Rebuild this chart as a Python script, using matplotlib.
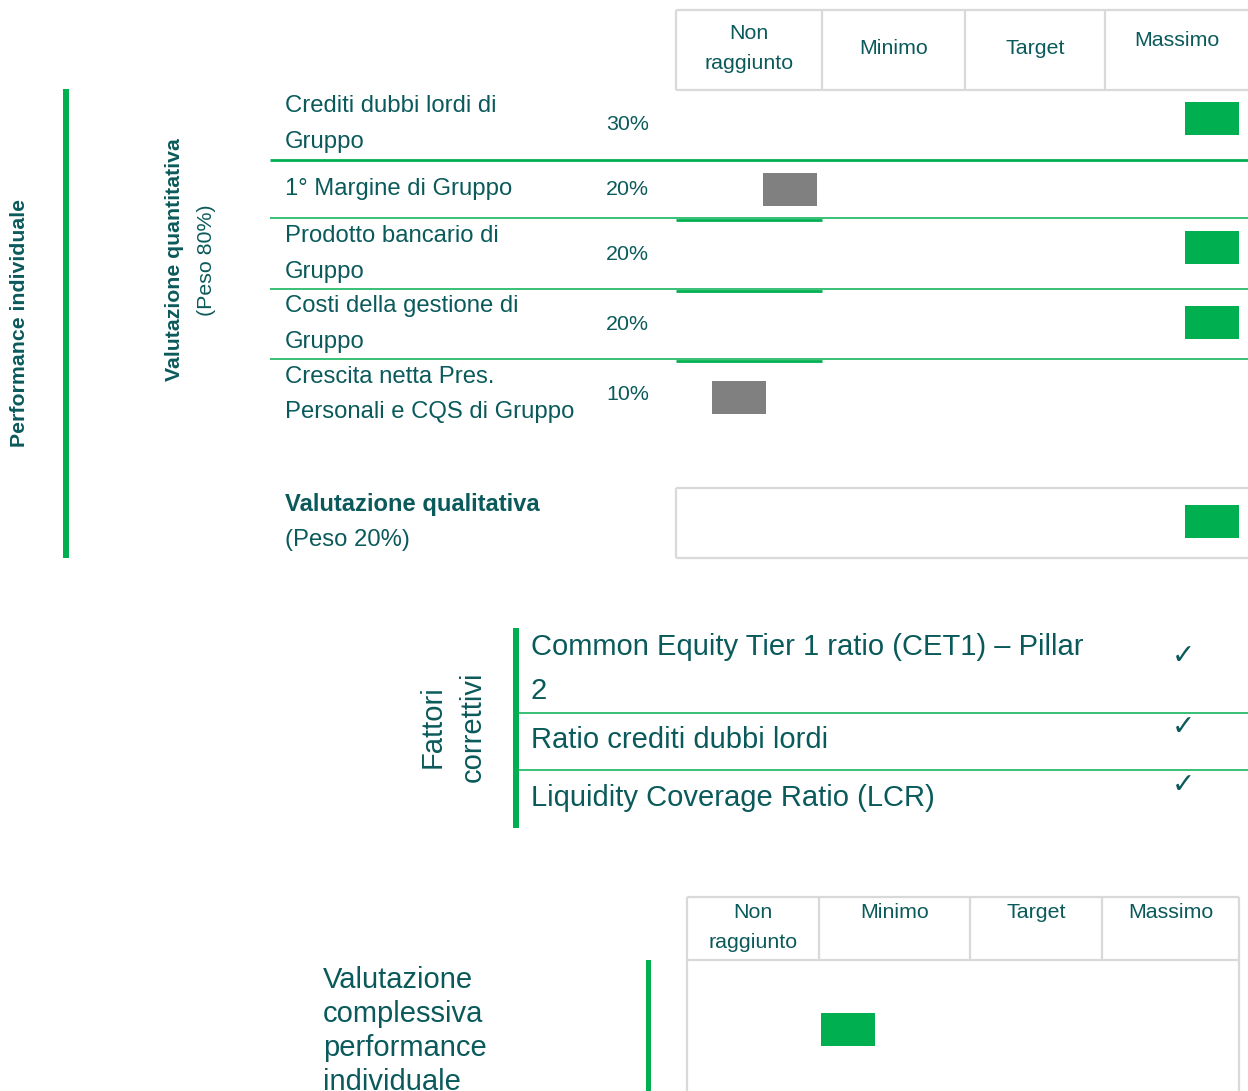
import matplotlib.pyplot as plt
from matplotlib.patches import Rectangle

plt.rcParams['font.family'] = ['Liberation Sans', 'DejaVu Sans']

# --- data ---
livelli = ["Non\nraggiunto", "Minimo", "Target", "Massimo"]
obiettivi = ["Crediti dubbi lordi di\nGruppo", "1° Margine di Gruppo",
             "Prodotto bancario di\nGruppo", "Costi della gestione di\nGruppo",
             "Crescita netta Pres.\nPersonali e CQS di Gruppo"]
pesi = ["30%", "20%", "20%", "20%", "10%"]
# score on the 0-4 scale of the level columns
punteggi = [3.75, 0.78, 3.75, 3.75, 0.43]
raggiunto = [True, False, True, True, False]
punteggio_qualitativo = 3.75
fattori = ["Common Equity Tier 1 ratio (CET1) – Pillar\n2",
           "Ratio crediti dubbi lordi",
           "Liquidity Coverage Ratio (LCR)"]
fattori_ok = [True, True, True]
punteggio_complessivo = 1.19

# --- style / layout ---
TEAL = '#0b5a5b'
GREEN = '#00b050'
GRAY = '#808080'
BORDER = '#d9d9d9'

fig = plt.figure(figsize=(12.48, 10.91), dpi=100)
ax = fig.add_axes([0, 0, 1, 1])
ax.set_xlim(0, 1248)
ax.set_ylim(1091, 0)
ax.axis('off')


def pos_x(score, edges):
    i = min(int(score), len(edges) - 2)
    return edges[i] + (score - i) * (edges[i + 1] - edges[i])


def box(xc, yc, color):
    ax.add_patch(Rectangle((xc - 27, yc - 16.5), 54, 33, color=color, lw=0))


# top header table
col_top = [676, 822, 965, 1105, 1248]
ax.hlines([10, 90], 676, 1250, color=BORDER, lw=1.6)
ax.vlines(col_top[:-1], 10, 90, color=BORDER, lw=1.6)
head_y = [48.5, 49, 49, 41]
for i, lab in enumerate(livelli):
    ax.text((col_top[i] + col_top[i + 1]) / 2, head_y[i], lab, ha='center', va='center',
            fontsize=15.4, color=TEAL, linespacing=1.75)

# left bars and rotated titles
ax.add_patch(Rectangle((63, 89), 6, 469, color=GREEN, lw=0))
ax.text(20, 323, "Performance individuale", rotation=90, ha='center', va='center',
        fontsize=15.3, fontweight='bold', color=TEAL)
ax.text(175, 260, "Valutazione quantitativa", rotation=90, ha='center', va='center',
        fontsize=15.3, fontweight='bold', color=TEAL)
ax.text(207, 260, "(Peso 80%)", rotation=90, ha='center', va='center',
        fontsize=15.4, color=TEAL)

# quantitative rows
label_y = [124, 189.5, 254, 324, 394.5]
box_y = [118, 189, 247, 322, 397]
for i, lab in enumerate(obiettivi):
    ax.text(285, label_y[i], lab, ha='left', va='center', fontsize=17.2, color=TEAL,
            linespacing=1.8)
    ax.text(606, label_y[i], pesi[i], ha='left', va='center', fontsize=15.4, color=TEAL)
    box(pos_x(punteggi[i], col_top), box_y[i], GREEN if raggiunto[i] else GRAY)

ax.hlines(160, 270, 1248, color=GREEN, lw=2.0)
for y in [218, 289, 359]:
    ax.hlines(y, 270, 1248, color=GREEN, lw=1.1)
    ax.hlines(y + 1.5, 676, 822, color=GREEN, lw=2.0)

# qualitative
ax.text(285, 505, "Valutazione qualitativa", ha='left', va='center', fontsize=17.1,
        fontweight='bold', color=TEAL)
ax.text(285, 540, "(Peso 20%)", ha='left', va='center', fontsize=17.2, color=TEAL)
ax.hlines([488, 558], 676, 1250, color=BORDER, lw=1.6)
ax.vlines(676, 488, 558, color=BORDER, lw=1.6)
box(pos_x(punteggio_qualitativo, col_top), 521, GREEN)

# correction factors
ax.text(453, 727, "Fattori\ncorrettivi", rotation=90, ha='center', va='center',
        multialignment='center', fontsize=21, color=TEAL, linespacing=1.55)
ax.add_patch(Rectangle((513, 628), 6, 200, color=GREEN, lw=0))
fatt_y = [669, 740.5, 797.5]
for i, lab in enumerate(fattori):
    ax.text(531, fatt_y[i], lab, ha='left', va='center', fontsize=21, color=TEAL,
            linespacing=1.75)
    if fattori_ok[i]:
        ax.text(1183, fatt_y[i] - 13, "\u2713", ha='center', va='center', fontsize=20,
                color=TEAL, family='DejaVu Sans')
ax.hlines([713, 770], 519, 1248, color=GREEN, lw=1.1)

# overall evaluation
col_bot = [687, 819, 970, 1102, 1239]
ax.hlines([897, 960], 687, 1239, color=BORDER, lw=1.6)
ax.vlines(col_bot, 897, 960, color=BORDER, lw=1.6)
ax.vlines([687, 1239], 960, 1095, color=BORDER, lw=1.6)
bot_y = [927.5, 912, 912, 912]
for i, lab in enumerate(livelli):
    ax.text((col_bot[i] + col_bot[i + 1]) / 2, bot_y[i], lab, ha='center', va='center',
            fontsize=15.4, color=TEAL, linespacing=1.75)
ax.add_patch(Rectangle((646, 960), 5, 135, color=GREEN, lw=0))
box(pos_x(punteggio_complessivo, col_bot), 1029.5, GREEN)
ax.text(323, 1031, "Valutazione\ncomplessiva\nperformance\nindividuale", ha='left',
        va='center', fontsize=21, color=TEAL, linespacing=1.27)

fig.savefig('out.png', dpi=100)
